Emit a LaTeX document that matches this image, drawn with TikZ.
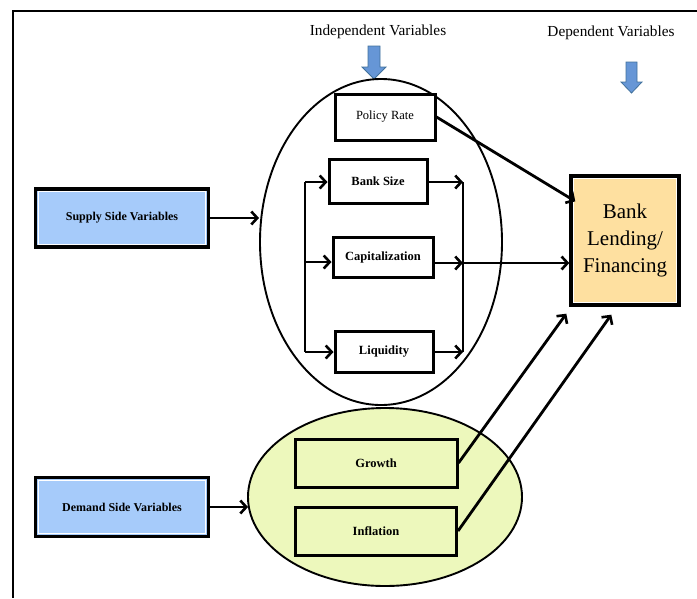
\documentclass[tikz,border=0pt]{standalone}
\usepackage{fontspec}
\setmainfont{Liberation Serif}
\usetikzlibrary{arrows.meta,shapes.geometric,calc}
\definecolor{sideblue}{RGB}{166,203,250}
\definecolor{lendorange}{RGB}{254,224,160}
\definecolor{demgreen}{RGB}{237,248,188}
\definecolor{arrowfill}{RGB}{102,150,214}
\definecolor{arrowline}{RGB}{65,113,156}
\tikzset{
  innerwhite/.style={path picture={\draw[white, line width=1pt]
      ([shift={(2.8pt,-2.8pt)}]path picture bounding box.north west) rectangle
      ([shift={(-2.8pt,2.8pt)}]path picture bounding box.south east);}},
  varbox/.style={draw=black, line width=3pt, fill=white, inner sep=0pt, font=\fontsize{12.5}{14}\selectfont\bfseries},
  sidebox/.style={draw=black, line width=3.4pt, fill=sideblue, inner sep=0pt, innerwhite, font=\fontsize{12}{14}\selectfont\bfseries},
  lendbox/.style={draw=black, line width=3.4pt, fill=lendorange, inner sep=0pt, innerwhite, align=center, font=\fontsize{21}{27}\selectfont},
  demnode/.style={draw=black, line width=3pt, fill=demgreen, inner sep=0pt, font=\fontsize{12.5}{14}\selectfont\bfseries},
  conn/.style={line width=2.8pt, -{Straight Barb[length=6pt,width=13pt,line width=2.6pt]}},
  bus/.style={line width=2.8pt},
  ringline/.style={draw=black, line width=1.9pt},
  headtext/.style={font=\fontsize{15.3}{17}\selectfont},
  bluearrow/.style={fill=arrowfill, draw=arrowline, line width=0.8pt, line join=miter}
}
\begin{document}
\begin{tikzpicture}[x=1pt,y=-1pt]
\useasboundingbox (0,0) rectangle (697,598);
% frame
\draw[line width=1.6pt] (697,11) -- (13,11) -- (13,598);

% headings
\node[headtext] (indep) at (378,32) {Independent Variables};
\node[headtext] (dep) at (611,33) {Dependent Variables};
\draw[bluearrow] (368,46) -- (380,46) -- (380,67) -- (386,67) -- (374,79) -- (362,67) -- (368,67) -- cycle;
\draw[bluearrow] (626,62) -- (637,62) -- (637,82) -- (642,82) -- (631.5,93) -- (621,82) -- (626,82) -- cycle;

% ellipses
\node[ellipse, ringline, fill=white, minimum width=242pt, minimum height=326pt, inner sep=0pt] (upper) at (381,242) {};
\node[ellipse, ringline, fill=demgreen, minimum width=274pt, minimum height=178pt, inner sep=0pt] (lower) at (385,497) {};

% independent variables
\node[varbox, minimum width=100pt, minimum height=46pt, font=\fontsize{12.5}{14}\selectfont] (policy) at (385,117) {Policy Rate};
\node[varbox, minimum width=98pt, minimum height=44pt] (banksize) at (378,181) {Bank Size};
\node[varbox, minimum width=100pt, minimum height=40pt] (capital) at (383,257) {Capitalization};
\node[varbox, minimum width=98pt, minimum height=41pt] (liquidity) at (384,351.5) {Liquidity};

% demand-side variables
\node[demnode, minimum width=162pt, minimum height=48pt] (growth) at (376,463) {Growth};
\node[demnode, minimum width=161pt, minimum height=48pt] (inflation) at (376,531) {Inflation};

% side boxes
\node[sidebox, minimum width=173pt, minimum height=58pt] (supply) at (122,218) {Supply Side Variables};
\node[sidebox, minimum width=173pt, minimum height=59pt] (demand) at (122,507) {Demand Side Variables};

% dependent variable
\node[lendbox, minimum width=108pt, minimum height=129pt] (lending) at (625,240.5) {Bank\\Lending/\\Financing};

% bus coordinates
\coordinate (L1) at (305,182);
\coordinate (L2) at (305,262);
\coordinate (L3) at (305,352);
\coordinate (R1) at (463,182);
\coordinate (R2) at (463,263);
\coordinate (R3) at (463,352);

\draw[bus] (L1) -- (L3);
\draw[bus] (R1) -- (R3);
\draw[conn] (L1) -- (banksize.west |- L1);
\draw[conn] (L2) -- (capital.west |- L2);
\draw[conn] (L3) -- (liquidity.west |- L3);
\draw[conn] (banksize.east |- R1) -- (R1);
\draw[conn] (capital.east |- R2) -- (R2);
\draw[conn] (liquidity.east |- R3) -- (R3);
\draw[conn] (R2) -- (lending.west |- R2);

% inputs
\draw[conn] (supply.east) -- (upper.west |- supply.east);
\draw[conn] (demand.east) -- ($(lower.west |- demand.east)+(1,0)$);

% to lending
\draw[conn] (policy.east) -- ($(lending.north west)+(6,27)$);
\draw[conn] (growth.east) -- ($(lending.south west)+(-3,7)$);
\draw[conn] (inflation.east) -- ($(lending.south west)+(42,8)$);
\end{tikzpicture}
\end{document}
